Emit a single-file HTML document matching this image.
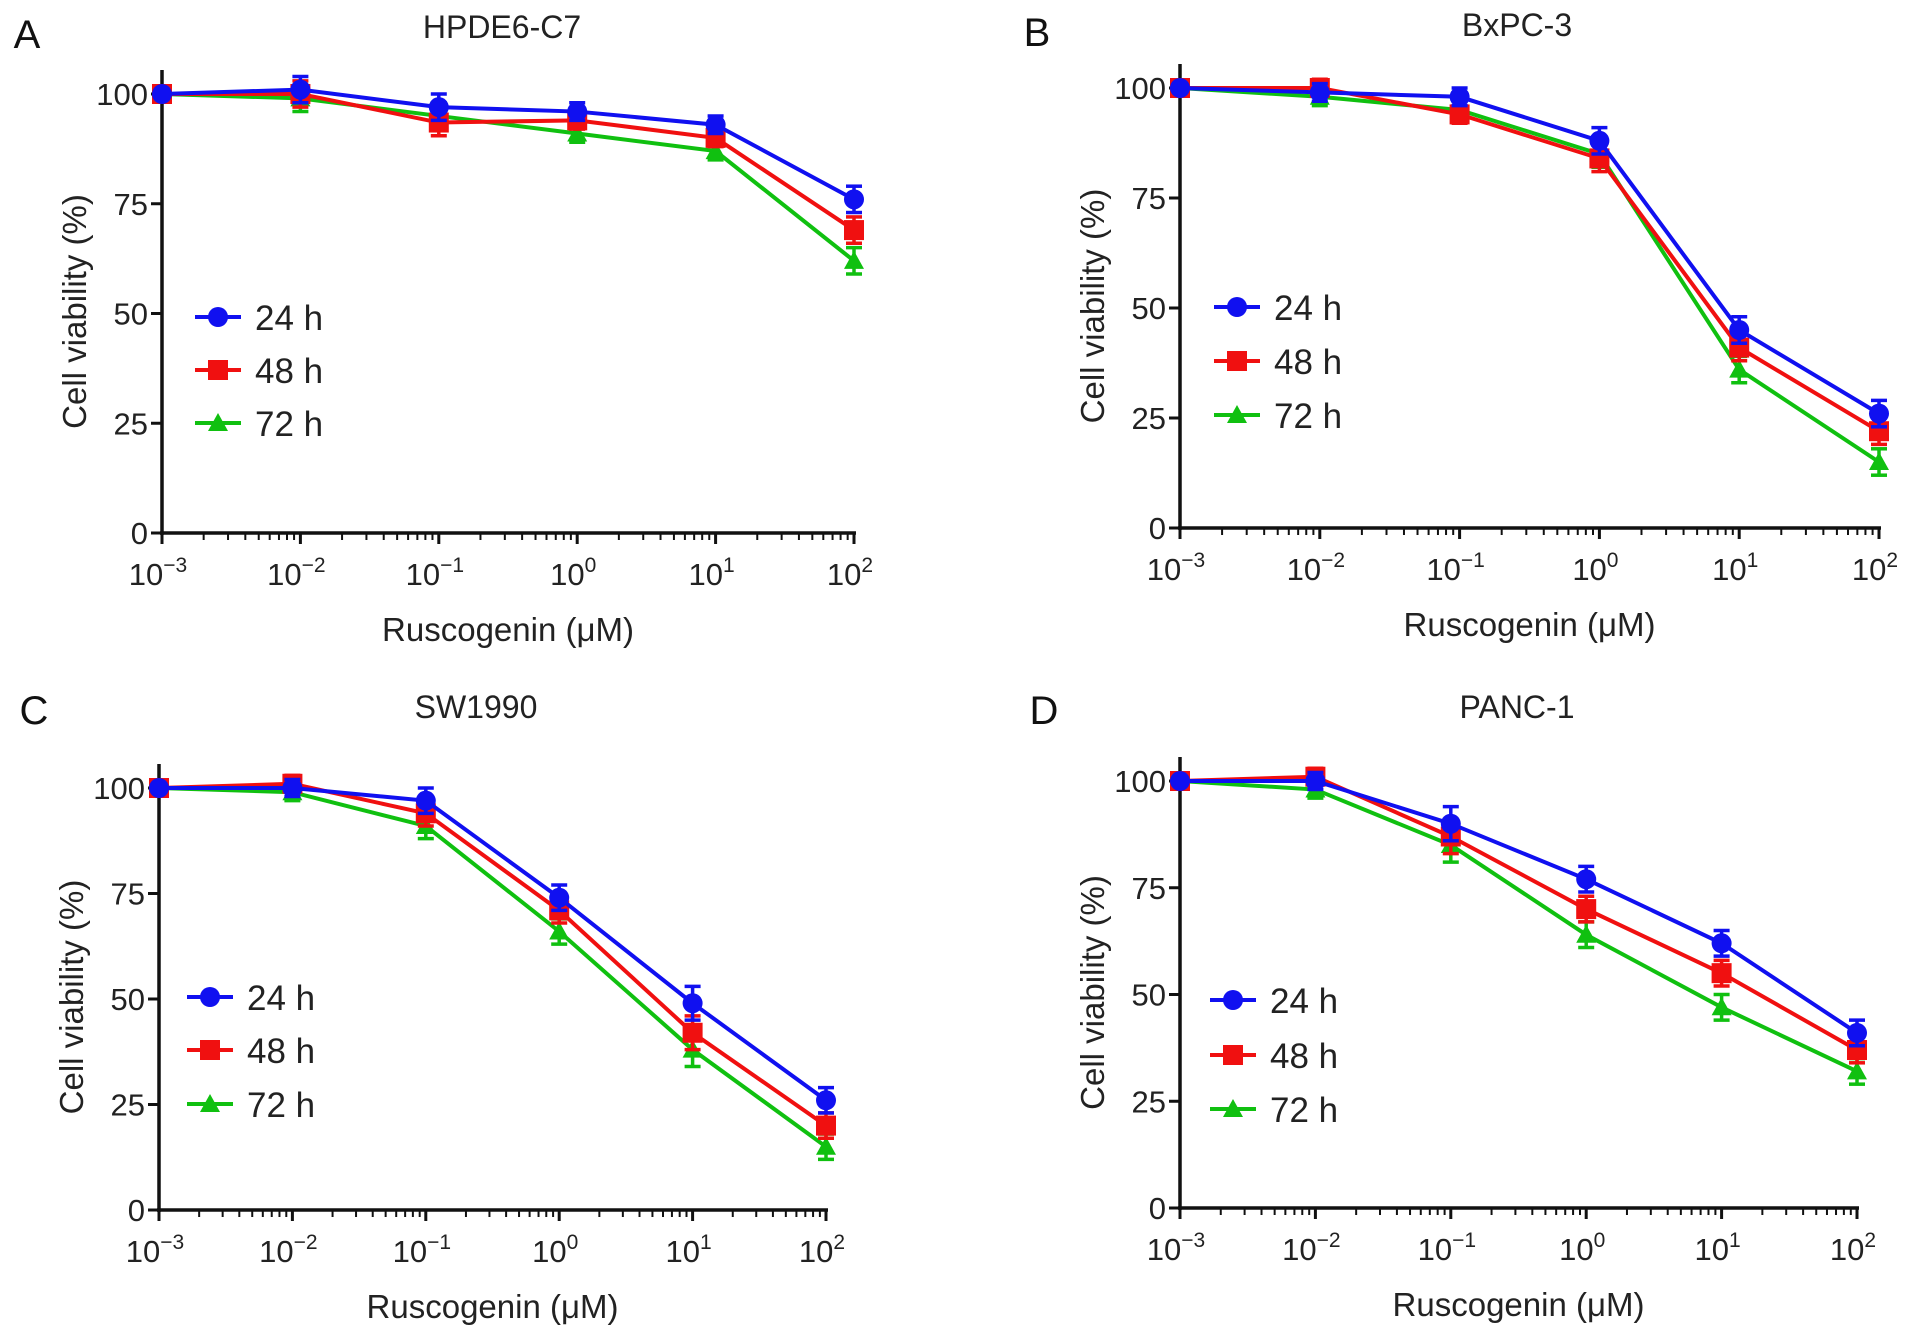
<!DOCTYPE html>
<html><head><meta charset="utf-8">
<style>
html,body{margin:0;padding:0;background:#fff;overflow:hidden;}
svg{display:block;font-family:"Liberation Sans",Arial,sans-serif;}
</style></head>
<body>
<svg id="fig" width="1913" height="1330" viewBox="0 0 1913 1330" xmlns="http://www.w3.org/2000/svg"></svg>
<script>
const doses = [-3, -2, -1, 0, 1, 2];
const seriesNames = ["24 h", "48 h", "72 h"];
const xTickExps = ["\u22123", "\u22122", "\u22121", "0", "1", "2"];
const yTicks = [0, 25, 50, 75, 100];

const panelTitles = ["HPDE6-C7", "BxPC-3", "SW1990", "PANC-1"];
const panelLetters = ["A", "B", "C", "D"];

const a24 = [100, 101, 97, 96, 93, 76];
const a48 = [100, 100, 93.5, 94, 90, 69];
const a72 = [100, 99, 95, 91, 87, 62];
const aErr = [1, 3, 3, 2, 2, 3];

const b24 = [100, 99, 98, 88, 45, 26];
const b48 = [100, 100, 94, 84, 41, 22];
const b72 = [100, 98, 95, 85, 36, 15];
const bErr = [1, 2, 2, 3, 3, 3];

const c24 = [100, 100, 97, 74, 49, 26];
const c48 = [100, 101, 94, 71, 42, 20];
const c72 = [100, 99, 91, 66, 38, 15];
const cErr = [1, 2, 3, 3, 4, 3];

const d24 = [100, 100, 90, 77, 62, 41];
const d48 = [100, 101, 87, 70, 55, 37];
const d72 = [100, 98, 85, 64, 47, 32];
const dErr = [1, 2, 4, 3, 3, 3];

const panelData = [[a24, a48, a72], [b24, b48, b72], [c24, c48, c72], [d24, d48, d72]];
const panelErr = [aErr, bErr, cErr, dErr];

const colors = ["#1010f0", "#f01010", "#10c010"];
const NS = "http://www.w3.org/2000/svg";
const svg = document.getElementById("fig");

const layouts = [
  {x0:162, x1:854, y0:533, y100:94, top:70, tx:502, ty:38, lx:27, ly:48, legX:195, legY:[317,370,423]},
  {x0:1180, x1:1879, y0:528, y100:88, top:64, tx:1517, ty:36, lx:1037, ly:46, legX:1214, legY:[307,361,415]},
  {x0:159, x1:826, y0:1210, y100:788, top:764, tx:476, ty:718, lx:34, ly:724, legX:187, legY:[997,1050,1104]},
  {x0:1180, x1:1857, y0:1208, y100:781, top:757, tx:1517, ty:718, lx:1044, ly:724, legX:1210, legY:[1000,1055,1109]}
];

function el(tag, attrs, parent){
  const e = document.createElementNS(NS, tag);
  for (const k in attrs) e.setAttribute(k, attrs[k]);
  (parent||svg).appendChild(e);
  return e;
}

function marker(g, i, cx, cy, r){
  let m;
  if (i === 0) m = el("circle", {cx:cx, cy:cy, r:r, fill:colors[i]}, g);
  else if (i === 1) m = el("rect", {x:cx-r, y:cy-r, width:2*r, height:2*r, fill:colors[i]}, g);
  else m = el("polygon", {points:`${cx},${cy-r} ${cx-r},${cy+r*0.8} ${cx+r},${cy+r*0.8}`, fill:colors[i]}, g);
  return m;
}

layouts.forEach((L, p) => {
  const g = el("g", {});
  
  
  const xs = v => L.x0 + (v - doses[0]) / (doses[doses.length-1] - doses[0]) * (L.x1 - L.x0);
  const ys = v => L.y0 - v / 100 * (L.y0 - L.y100);

  const letter = el("text", {x:L.lx, y:L.ly, "font-size":40, "text-anchor":"middle", fill:"#111"}, g);
  letter.textContent = panelLetters[p];
  
  
  const title = el("text", {x:L.tx, y:L.ty, "font-size":32, "text-anchor":"middle", fill:"#222"}, g);
  title.textContent = panelTitles[p];
  
  

  const ya = el("line", {x1:L.x0, y1:L.top, x2:L.x0, y2:L.y0+2, stroke:"#111", "stroke-width":3.5}, g);
  
  
  const xa = el("line", {x1:L.x0-2, y1:L.y0, x2:L.x1+2, y2:L.y0, stroke:"#111", "stroke-width":3.5}, g);
  
  

  yTicks.forEach(t => {
    const y = ys(t);
    el("line", {x1:L.x0-11, y1:y, x2:L.x0, y2:y, stroke:"#111", "stroke-width":3}, g);
    const tl = el("text", {x:L.x0-14, y:y+11, "font-size":31, "text-anchor":"end", fill:"#222"}, g);
    tl.textContent = t;
    
    
  });
  doses.forEach((d, k) => {
    const x = xs(d);
    el("line", {x1:x, y1:L.y0, x2:x, y2:L.y0+11, stroke:"#111", "stroke-width":3}, g);
    if (k < doses.length-1) {
      for (let m = 2; m <= 9; m++) {
        const xm = xs(d + Math.log10(m));
        el("line", {x1:xm, y1:L.y0, x2:xm, y2:L.y0+7, stroke:"#111", "stroke-width":2}, g);
      }
    }
    const tl = el("text", {x:x-4, y:L.y0+52, "font-size":31, "text-anchor":"middle", fill:"#222"}, g);
    
    
    const t1 = el("tspan", {}, tl); t1.textContent = "10";
    const t2 = el("tspan", {dy:-13, "font-size":21}, tl); t2.textContent = xTickExps[k];
  });

  const xt = el("text", {x:(L.x0+L.x1)/2, y:L.y0+108, "font-size":33, "text-anchor":"middle", fill:"#222"}, g);
  xt.textContent = "Ruscogenin (\u03bcM)";
  
  
  const ymid = (L.y0 + L.top)/2 + 10;
  const yt = el("text", {x:L.x0-76, y:ymid, "font-size":33, "text-anchor":"middle", fill:"#222", transform:`rotate(-90 ${L.x0-76} ${ymid})`}, g);
  yt.textContent = "Cell viability (%)";
  
  

  [2,1,0].forEach(i => {
    const vals = panelData[p][i];
    const sg = el("g", {}, g);
    
    
    const pts = vals.map((v, k) => xs(doses[k]) + "," + ys(v)).join(" ");
    el("polyline", {points:pts, fill:"none", stroke:colors[i], "stroke-width":4}, sg);
    vals.forEach((v, k) => {
      const x = xs(doses[k]), e = panelErr[p][k];
      el("line", {x1:x, y1:ys(v+e), x2:x, y2:ys(v-e), stroke:colors[i], "stroke-width":3.5}, sg);
      el("line", {x1:x-8, y1:ys(v+e), x2:x+8, y2:ys(v+e), stroke:colors[i], "stroke-width":3.5}, sg);
      el("line", {x1:x-8, y1:ys(v-e), x2:x+8, y2:ys(v-e), stroke:colors[i], "stroke-width":3.5}, sg);
      const m = marker(sg, i, x, ys(v), 10);
      
      
    });
  });

  seriesNames.forEach((n, i) => {
    const lg = el("g", {}, g);
    
    
    const y = L.legY[i];
    el("line", {x1:L.legX, y1:y, x2:L.legX+46, y2:y, stroke:colors[i], "stroke-width":4}, lg);
    marker(lg, i, L.legX+23, y, 10);
    const t = el("text", {x:L.legX+60, y:y+13, "font-size":35, fill:"#222"}, lg);
    t.textContent = n;
  });
});
</script>
</body></html>
